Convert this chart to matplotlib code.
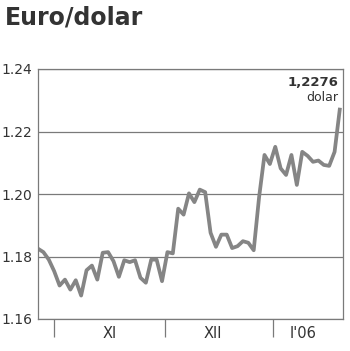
import matplotlib.pyplot as plt
from matplotlib.ticker import FixedLocator, NullFormatter

# daily euro/dollar rate
rate = [
    1.1825, 1.1814, 1.1790, 1.1753, 1.1707, 1.1726, 1.1694, 1.1724, 1.1675, 1.1756,
    1.1771, 1.1726, 1.1812, 1.1814, 1.1785, 1.1735, 1.1788, 1.1782, 1.1788, 1.1732,
    1.1716, 1.1790, 1.1790, 1.1721, 1.1814, 1.1810, 1.1953, 1.1934, 1.2002, 1.1974,
    1.2014, 1.2006, 1.1876, 1.1831, 1.1870, 1.1870, 1.1827, 1.1833, 1.1849, 1.1844,
    1.1820, 1.1990, 1.2125, 1.2096, 1.2151, 1.2082, 1.2061, 1.2125, 1.2029, 1.2135,
    1.2122, 1.2103, 1.2107, 1.2093, 1.2090, 1.2135, 1.2276,
]
y_ticks = [1.16, 1.18, 1.20, 1.22, 1.24]
y_labels = ["1.16", "1.18", "1.20", "1.22", "1.24"]
month_bounds = [2.97, 23.55, 43.6]
month_pos = [13.35, 32.4, 49.1]
month_names = ["XI", "XII", "I'06"]
last_label = "1,2276"

grey = "#858585"
frame = "#7a7a7a"

fig = plt.figure(figsize=(3.5, 3.51), dpi=100)
ax = fig.add_axes([38 / 350, 32 / 351, 305 / 350, 250 / 351])

ax.plot(range(len(rate)), rate, color=grey, lw=2.7,
        solid_joinstyle="round", solid_capstyle="butt")

ax.set_xlim(0, 56.56)
ax.set_ylim(1.16, 1.24)

ax.set_yticks(y_ticks)
ax.set_yticklabels(y_labels)
ax.grid(axis="y", color=frame, lw=0.9)
ax.tick_params(axis="y", length=0, pad=4, labelsize=10, labelcolor="#333333")

# month separators as minor ticks, names as major ticks without marks
ax.xaxis.set_minor_locator(FixedLocator(month_bounds))
ax.xaxis.set_minor_formatter(NullFormatter())
ax.set_xticks(month_pos)
ax.set_xticklabels(month_names)
ax.tick_params(axis="x", which="major", length=0, pad=5, labelsize=10.5, labelcolor="#333333")
ax.tick_params(axis="x", which="minor", length=13, width=0.9, color=frame)

for s in ax.spines.values():
    s.set_color(frame)
    s.set_linewidth(0.9)

ax.text(0.985, 0.945, last_label, transform=ax.transAxes, ha="right", va="center",
        fontsize=9.5, fontweight="bold", color="#333333")
ax.text(0.985, 0.885, "dolar", transform=ax.transAxes, ha="right", va="center",
        fontsize=9, color="#333333")

fig.text(0.015, 0.95, "Euro/dolar", ha="left", va="center",
         fontsize=17, fontweight="bold", color="#333333")

fig.savefig("out.png", dpi=100)
